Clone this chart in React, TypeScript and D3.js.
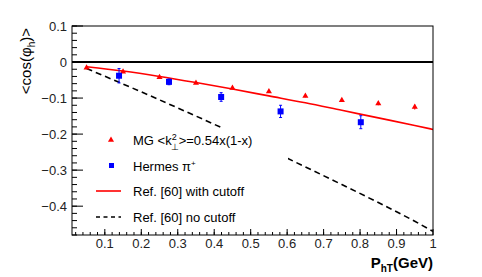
import React from 'react';
import * as d3 from 'd3';

// MG points with <k_perp^2>=0.54x(1-x)
const mgX = [0.05, 0.15, 0.25, 0.35, 0.45, 0.55, 0.65, 0.75, 0.85, 0.95];
const mgY = [-0.016, -0.027, -0.042, -0.058, -0.072, -0.082, -0.094, -0.106, -0.115, -0.125];
const mgErr = [0.002, 0.002, 0.002, 0.003, 0.003, 0.003, 0.004, 0.004, 0.005, 0.007];

// Hermes pi+ data
const hermesX = [0.139, 0.276, 0.419, 0.582, 0.802];
const hermesY = [-0.038, -0.055, -0.097, -0.137, -0.167];
const hermesErr = [0.02, 0.008, 0.012, 0.017, 0.018];

// Ref. [60] curves
const curveX = [0.05, 0.15, 0.25, 0.35, 0.45, 0.55, 0.65, 0.75, 0.85, 0.95, 1.0];
const cutY = [-0.013, -0.025, -0.04, -0.057, -0.075, -0.094, -0.113, -0.134, -0.155, -0.176, -0.187];
const noCutY = [-0.018, -0.061, -0.105, -0.15, -0.196, -0.243, -0.291, -0.34, -0.39, -0.442, -0.47];

const xTicks = [0.1, 0.2, 0.3, 0.4, 0.5, 0.6, 0.7, 0.8, 0.9, 1];
const yTicks = [-0.4, -0.3, -0.2, -0.1, 0, 0.1];

const font = 'Liberation Sans, Arial, sans-serif';

export default function App() {
  const x = d3.scaleLinear().domain([0.01, 1]).range([72, 433]);
  const y = d3.scaleLinear().domain([-0.48, 0.1]).range([235, 26]);
  const fmt = d3.format('~g');

  const xMinor = d3.range(1, 50).map((i) => i * 0.02);
  const yMinor = d3.range(-24, 6).map((i) => i * 0.02);

  const line = d3
    .line<number>()
    .x((d, i) => x(curveX[i]))
    .y((d) => y(d))
    .curve(d3.curveMonotoneX);

  const tri = d3.symbol().type(d3.symbolTriangle).size(16)();

  return (
    <svg width={482} height={277} style={{ position: 'absolute', left: 0, top: 0 }} fontFamily={font}>
      <rect width={482} height={277} fill="white" />

      {/* curves */}
      <path d={line(noCutY) || ''} fill="none" stroke="black" strokeWidth={1.6} strokeDasharray="6,4" />
      <path d={line(cutY) || ''} fill="none" stroke="#ff0000" strokeWidth={1.6} />

      {/* zero line */}
      <line x1={x(0.01)} x2={x(1)} y1={y(0)} y2={y(0)} stroke="black" strokeWidth={2} />

      {/* MG triangles */}
      {mgX.map((v, i) => (
        <g key={'mg' + i}>
          <line x1={x(v)} x2={x(v)} y1={y(mgY[i] - mgErr[i])} y2={y(mgY[i] + mgErr[i])} stroke="#ff0000" strokeWidth={1} />
          <path d={tri} transform={`translate(${x(v)},${y(mgY[i])})`} fill="#ff0000" />
        </g>
      ))}

      {/* Hermes squares */}
      {hermesX.map((v, i) => (
        <g key={'h' + i} stroke="#0000ff">
          <line x1={x(v)} x2={x(v)} y1={y(hermesY[i] - hermesErr[i])} y2={y(hermesY[i] + hermesErr[i])} strokeWidth={1} />
          <line x1={x(v) - 1.5} x2={x(v) + 1.5} y1={y(hermesY[i] - hermesErr[i])} y2={y(hermesY[i] - hermesErr[i])} strokeWidth={1} />
          <line x1={x(v) - 1.5} x2={x(v) + 1.5} y1={y(hermesY[i] + hermesErr[i])} y2={y(hermesY[i] + hermesErr[i])} strokeWidth={1} />
          <rect x={x(v) - 3} y={y(hermesY[i]) - 3} width={6} height={6} fill="#0000ff" stroke="none" />
        </g>
      ))}

      {/* legend */}
      <rect x={88} y={128} width={200} height={102} fill="white" />
      <path d={tri} transform="translate(111,140)" fill="#ff0000" />
      <text x={133} y={145} fontSize={13}>
        MG &lt;k
        <tspan dy={-5} fontSize={9}>2</tspan>
        <tspan dx={-6} dy={10} fontSize={9}>⊥</tspan>
        <tspan dy={-5}>&gt;=0.54x(1-x)</tspan>
      </text>
      <rect x={109} y={163} width={5} height={5} fill="#0000ff" />
      <text x={133} y={171} fontSize={13}>
        Hermes π<tspan dy={-5} fontSize={8}>+</tspan>
      </text>
      <line x1={96} x2={121} y1={191} y2={191} stroke="#ff0000" strokeWidth={1.6} />
      <text x={133} y={196} fontSize={13}>Ref. [60] with cutoff</text>
      <line x1={96} x2={121} y1={217} y2={217} stroke="black" strokeWidth={1.6} strokeDasharray="4,3.5" />
      <text x={133} y={222} fontSize={13}>Ref. [60] no cutoff</text>

      {/* frame */}
      <rect x={72} y={26} width={361} height={209} fill="none" stroke="black" strokeWidth={1} />

      {/* x axis ticks */}
      {xMinor.map((v, i) => (
        <line key={'xm' + i} x1={x(v)} x2={x(v)} y1={235} y2={232} stroke="black" />
      ))}
      {xTicks.map((v) => (
        <g key={'xt' + v}>
          <line x1={x(v)} x2={x(v)} y1={235} y2={229} stroke="black" />
          <text x={x(v)} y={248} fontSize={13} textAnchor="middle" fill="#222">
            {fmt(v)}
          </text>
        </g>
      ))}

      {/* y axis ticks */}
      {yMinor.map((v, i) => (
        <line key={'ym' + i} x1={72} x2={77} y1={y(v)} y2={y(v)} stroke="black" />
      ))}
      {yTicks.map((v) => (
        <g key={'yt' + v}>
          <line x1={72} x2={83} y1={y(v)} y2={y(v)} stroke="black" />
          <text x={67} y={y(v) + 4.5} fontSize={13} textAnchor="end" fill="#222">
            {fmt(v)}
          </text>
        </g>
      ))}

      {/* axis titles */}
      <text x={433} y={268} fontSize={15} fontWeight="bold" textAnchor="end">
        P<tspan dy={4} fontSize={10}>hT</tspan>
        <tspan dy={-4}>(GeV)</tspan>
      </text>
      <text transform="translate(31,28) rotate(-90)" fontSize={15} textAnchor="end">
        &lt;cos(φ<tspan dy={4} fontSize={10}>h</tspan>
        <tspan dy={-4}>)&gt;</tspan>
      </text>
    </svg>
  );
}
